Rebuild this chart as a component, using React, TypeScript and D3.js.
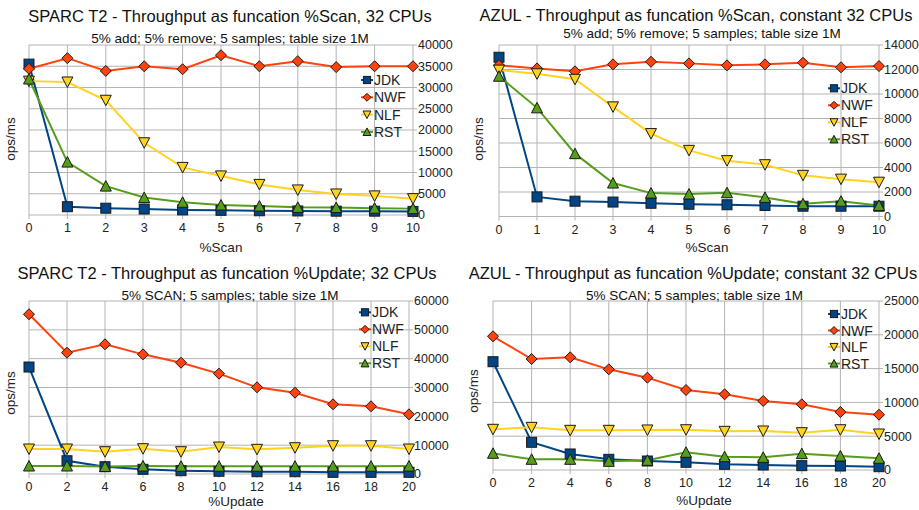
import React from 'react';
import * as d3 from 'd3';

// --- data ---
const SERIES_NAMES = ['JDK', 'NWF', 'NLF', 'RST'];
const SERIES_COLORS = ['#004586', '#ff420e', '#ffd320', '#579d1c'];

const scanPct = [0, 1, 2, 3, 4, 5, 6, 7, 8, 9, 10];
const updatePct = [0, 2, 4, 6, 8, 10, 12, 14, 16, 18, 20];

// SPARC T2, %Scan
const sparcScanJDK = [35500, 1950, 1600, 1400, 1200, 1100, 1000, 950, 900, 900, 850];
const sparcScanNWF = [34400, 36900, 33900, 35000, 34300, 37600, 35000, 36200, 34800, 35000, 35000];
const sparcScanNLF = [31500, 31300, 27000, 17000, 11200, 9200, 7200, 5900, 4950, 4500, 3850];
const sparcScanRST = [32000, 12450, 6800, 4100, 3000, 2350, 2100, 1800, 1750, 1600, 1500];

// AZUL, %Scan
const azulScanJDK = [13000, 1600, 1250, 1180, 1080, 1000, 960, 900, 840, 840, 840];
const azulScanNWF = [12350, 12090, 11850, 12420, 12630, 12500, 12340, 12420, 12550, 12180, 12280];
const azulScanNLF = [11950, 11650, 11200, 8950, 6770, 5400, 4560, 4230, 3360, 3050, 2800];
const azulScanRST = [11450, 8870, 5130, 2730, 1910, 1830, 1940, 1560, 1040, 1250, 900];

// SPARC T2, %Update
const sparcUpdJDK = [37100, 4600, 2530, 1630, 1150, 940, 800, 800, 580, 580, 580];
const sparcUpdNWF = [55400, 42070, 44980, 41500, 38600, 34800, 30060, 28200, 24170, 23480, 20700];
const sparcUpdNLF = [8670, 8670, 7740, 8780, 7740, 9360, 8560, 9120, 9820, 9820, 8670];
const sparcUpdRST = [2770, 2770, 2600, 2770, 2700, 2700, 2700, 2700, 2700, 2700, 2750];

// AZUL, %Update
const azulUpdJDK = [16020, 4100, 2370, 1580, 1330, 1140, 840, 740, 640, 590, 490];
const azulUpdNWF = [19780, 16420, 16670, 14890, 13660, 11830, 11200, 10210, 9720, 8580, 8180];
const azulUpdNLF = [6020, 6310, 5870, 5870, 5920, 5960, 5720, 5770, 5520, 5960, 5330];
const azulUpdRST = [2470, 1580, 1580, 1280, 1430, 2620, 1970, 1870, 2420, 2070, 1730];

const FONT = '"Liberation Sans", Arial, sans-serif';
const GRID = '#b3b3b3';

type Layout = {
  x0: number; x1: number; yTop: number; yBot: number;
  yMax: number; yStep: number;
  title: [number, number]; subtitle: [number, number];
  xLabelPos: [number, number]; yLabelPos: [number, number];
  legendX: number; legendY: number; legendStep: number;
};

type PanelProps = {
  layout: Layout;
  title: string;
  subtitle: string;
  xLabel: string;
  xs: number[];
  series: number[][];
};

// square / diamond / down triangle / up triangle
const Marker: React.FC<{ kind: number; cx: number; cy: number; color: string; r?: number }> = ({ kind, cx, cy, color, r = 5 }) => {
  const stroke = '#1a1a1a';
  if (kind === 0) {
    return <rect x={cx - r} y={cy - r} width={2 * r} height={2 * r} fill={color} stroke={stroke} strokeWidth={1} />;
  }
  const q = r * 1.1;
  if (kind === 1) {
    return <path d={`M${cx},${cy - q}L${cx + q},${cy}L${cx},${cy + q}L${cx - q},${cy}Z`} fill={color} stroke={stroke} strokeWidth={1} />;
  }
  if (kind === 2) {
    return <path d={`M${cx - q},${cy - r}L${cx + q},${cy - r}L${cx},${cy + q}Z`} fill={color} stroke={stroke} strokeWidth={1} />;
  }
  return <path d={`M${cx - q},${cy + r}L${cx + q},${cy + r}L${cx},${cy - q}Z`} fill={color} stroke={stroke} strokeWidth={1} />;
};

const Panel: React.FC<PanelProps> = ({ layout, title, subtitle, xLabel, xs, series }) => {
  const L = layout;
  const x = d3.scaleLinear().domain([xs[0], xs[xs.length - 1]]).range([L.x0, L.x1]);
  const y = d3.scaleLinear().domain([0, L.yMax]).range([L.yBot, L.yTop]);
  const yTicks = d3.range(0, L.yMax + 1, L.yStep);
  const line = d3.line<number>().x((_, i) => x(xs[i])).y(d => y(d));

  return (
    <g fontFamily={FONT}>
      {/* grid */}
      {yTicks.map(t => (
        <line key={'gy' + t} x1={L.x0} x2={L.x1} y1={y(t)} y2={y(t)} stroke={GRID} strokeWidth={1} />
      ))}
      {xs.map(t => (
        <line key={'gx' + t} x1={x(t)} x2={x(t)} y1={L.yTop} y2={L.yBot} stroke={GRID} strokeWidth={1} />
      ))}
      {/* ticks */}
      {yTicks.map(t => (
        <line key={'ty' + t} x1={L.x1} x2={L.x1 + 4} y1={y(t)} y2={y(t)} stroke={GRID} />
      ))}
      {xs.map(t => (
        <line key={'tx' + t} x1={x(t)} x2={x(t)} y1={L.yBot} y2={L.yBot + 4} stroke={GRID} />
      ))}
      {yTicks.map(t => (
        <text key={'ly' + t} x={L.x1 + 5} y={y(t)} dy="0.35em" fontSize={12.5} fill="#222">{t}</text>
      ))}
      {xs.map(t => (
        <text key={'lx' + t} x={x(t)} y={L.yBot + 13} dy="0.35em" fontSize={12.5} fill="#222" textAnchor="middle">{t}</text>
      ))}
      {/* series */}
      {series.map((s, k) => (
        <path key={'s' + k} d={line(s) || ''} fill="none" stroke={SERIES_COLORS[k]} strokeWidth={2} />
      ))}
      {series.map((s, k) => (
        <g key={'m' + k}>
          {s.map((v, i) => <Marker key={i} kind={k} cx={x(xs[i])} cy={y(v)} color={SERIES_COLORS[k]} />)}
        </g>
      ))}
      {/* legend */}
      {SERIES_NAMES.map((n, k) => {
        const ly = L.legendY + k * L.legendStep;
        return (
          <g key={'lg' + n}>
            <line x1={L.legendX - 6} x2={L.legendX + 6} y1={ly} y2={ly} stroke={SERIES_COLORS[k]} strokeWidth={2} />
            <Marker kind={k} cx={L.legendX} cy={ly} color={SERIES_COLORS[k]} r={3.6} />
            <text x={L.legendX + 7} y={ly} dy="0.36em" fontSize={14} fill="#222">{n}</text>
          </g>
        );
      })}
      {/* titles */}
      <text x={L.title[0]} y={L.title[1]} dy="0.36em" textAnchor="middle" fontSize={16.5} fill="#111">{title}</text>
      <text x={L.subtitle[0]} y={L.subtitle[1]} dy="0.36em" textAnchor="middle" fontSize={13.5} fill="#111">{subtitle}</text>
      <text x={L.xLabelPos[0]} y={L.xLabelPos[1]} dy="0.36em" textAnchor="middle" fontSize={13.5} fill="#222">{xLabel}</text>
      <text transform={`translate(${L.yLabelPos[0]},${L.yLabelPos[1]}) rotate(-90)`} dy="0.36em" textAnchor="middle" fontSize={13.5} fill="#222">ops/ms</text>
    </g>
  );
};

const layouts: Layout[] = [
  { x0: 29, x1: 413, yTop: 45, yBot: 215, yMax: 40000, yStep: 5000, title: [230, 16], subtitle: [230, 38],
    xLabelPos: [221, 247], yLabelPos: [10, 139], legendX: 367, legendY: 80, legendStep: 17.3 },
  { x0: 499, x1: 879, yTop: 45, yBot: 216.5, yMax: 14000, yStep: 2000, title: [696, 15], subtitle: [702, 33],
    xLabelPos: [707, 247], yLabelPos: [478, 139], legendX: 834, legendY: 88.3, legendStep: 17 },
  { x0: 29, x1: 409, yTop: 301, yBot: 474, yMax: 60000, yStep: 10000, title: [227, 273], subtitle: [230, 295],
    xLabelPos: [236, 501], yLabelPos: [10, 393], legendX: 365, legendY: 312.3, legendStep: 17 },
  { x0: 493, x1: 879, yTop: 301, yBot: 470, yMax: 25000, yStep: 5000, title: [693, 273], subtitle: [694.5, 295.5],
    xLabelPos: [704, 500], yLabelPos: [473, 391], legendX: 834, legendY: 314, legendStep: 16.5 },
];

export default function App() {
  return (
    <svg width={919} height={510} style={{ position: 'absolute', left: 0, top: 0, background: '#fff' }}>
      <rect width={919} height={510} fill="#fff" />
      <Panel layout={layouts[0]} title="SPARC T2 -  Throughput as funcation %Scan, 32 CPUs"
        subtitle="5% add; 5% remove; 5 samples; table size 1M" xLabel="%Scan" xs={scanPct}
        series={[sparcScanJDK, sparcScanNWF, sparcScanNLF, sparcScanRST]} />
      <Panel layout={layouts[1]} title="AZUL - Throughput as funcation %Scan, constant 32 CPUs"
        subtitle="5% add; 5% remove; 5 samples; table size 1M" xLabel="%Scan" xs={scanPct}
        series={[azulScanJDK, azulScanNWF, azulScanNLF, azulScanRST]} />
      <Panel layout={layouts[2]} title="SPARC T2 - Throughput as funcation %Update; 32 CPUs"
        subtitle="5% SCAN; 5 samples; table size 1M" xLabel="%Update" xs={updatePct}
        series={[sparcUpdJDK, sparcUpdNWF, sparcUpdNLF, sparcUpdRST]} />
      <Panel layout={layouts[3]} title="AZUL - Throughput as funcation %Update; constant 32 CPUs"
        subtitle="5% SCAN; 5 samples; table size 1M" xLabel="%Update" xs={updatePct}
        series={[azulUpdJDK, azulUpdNWF, azulUpdNLF, azulUpdRST]} />
    </svg>
  );
}
